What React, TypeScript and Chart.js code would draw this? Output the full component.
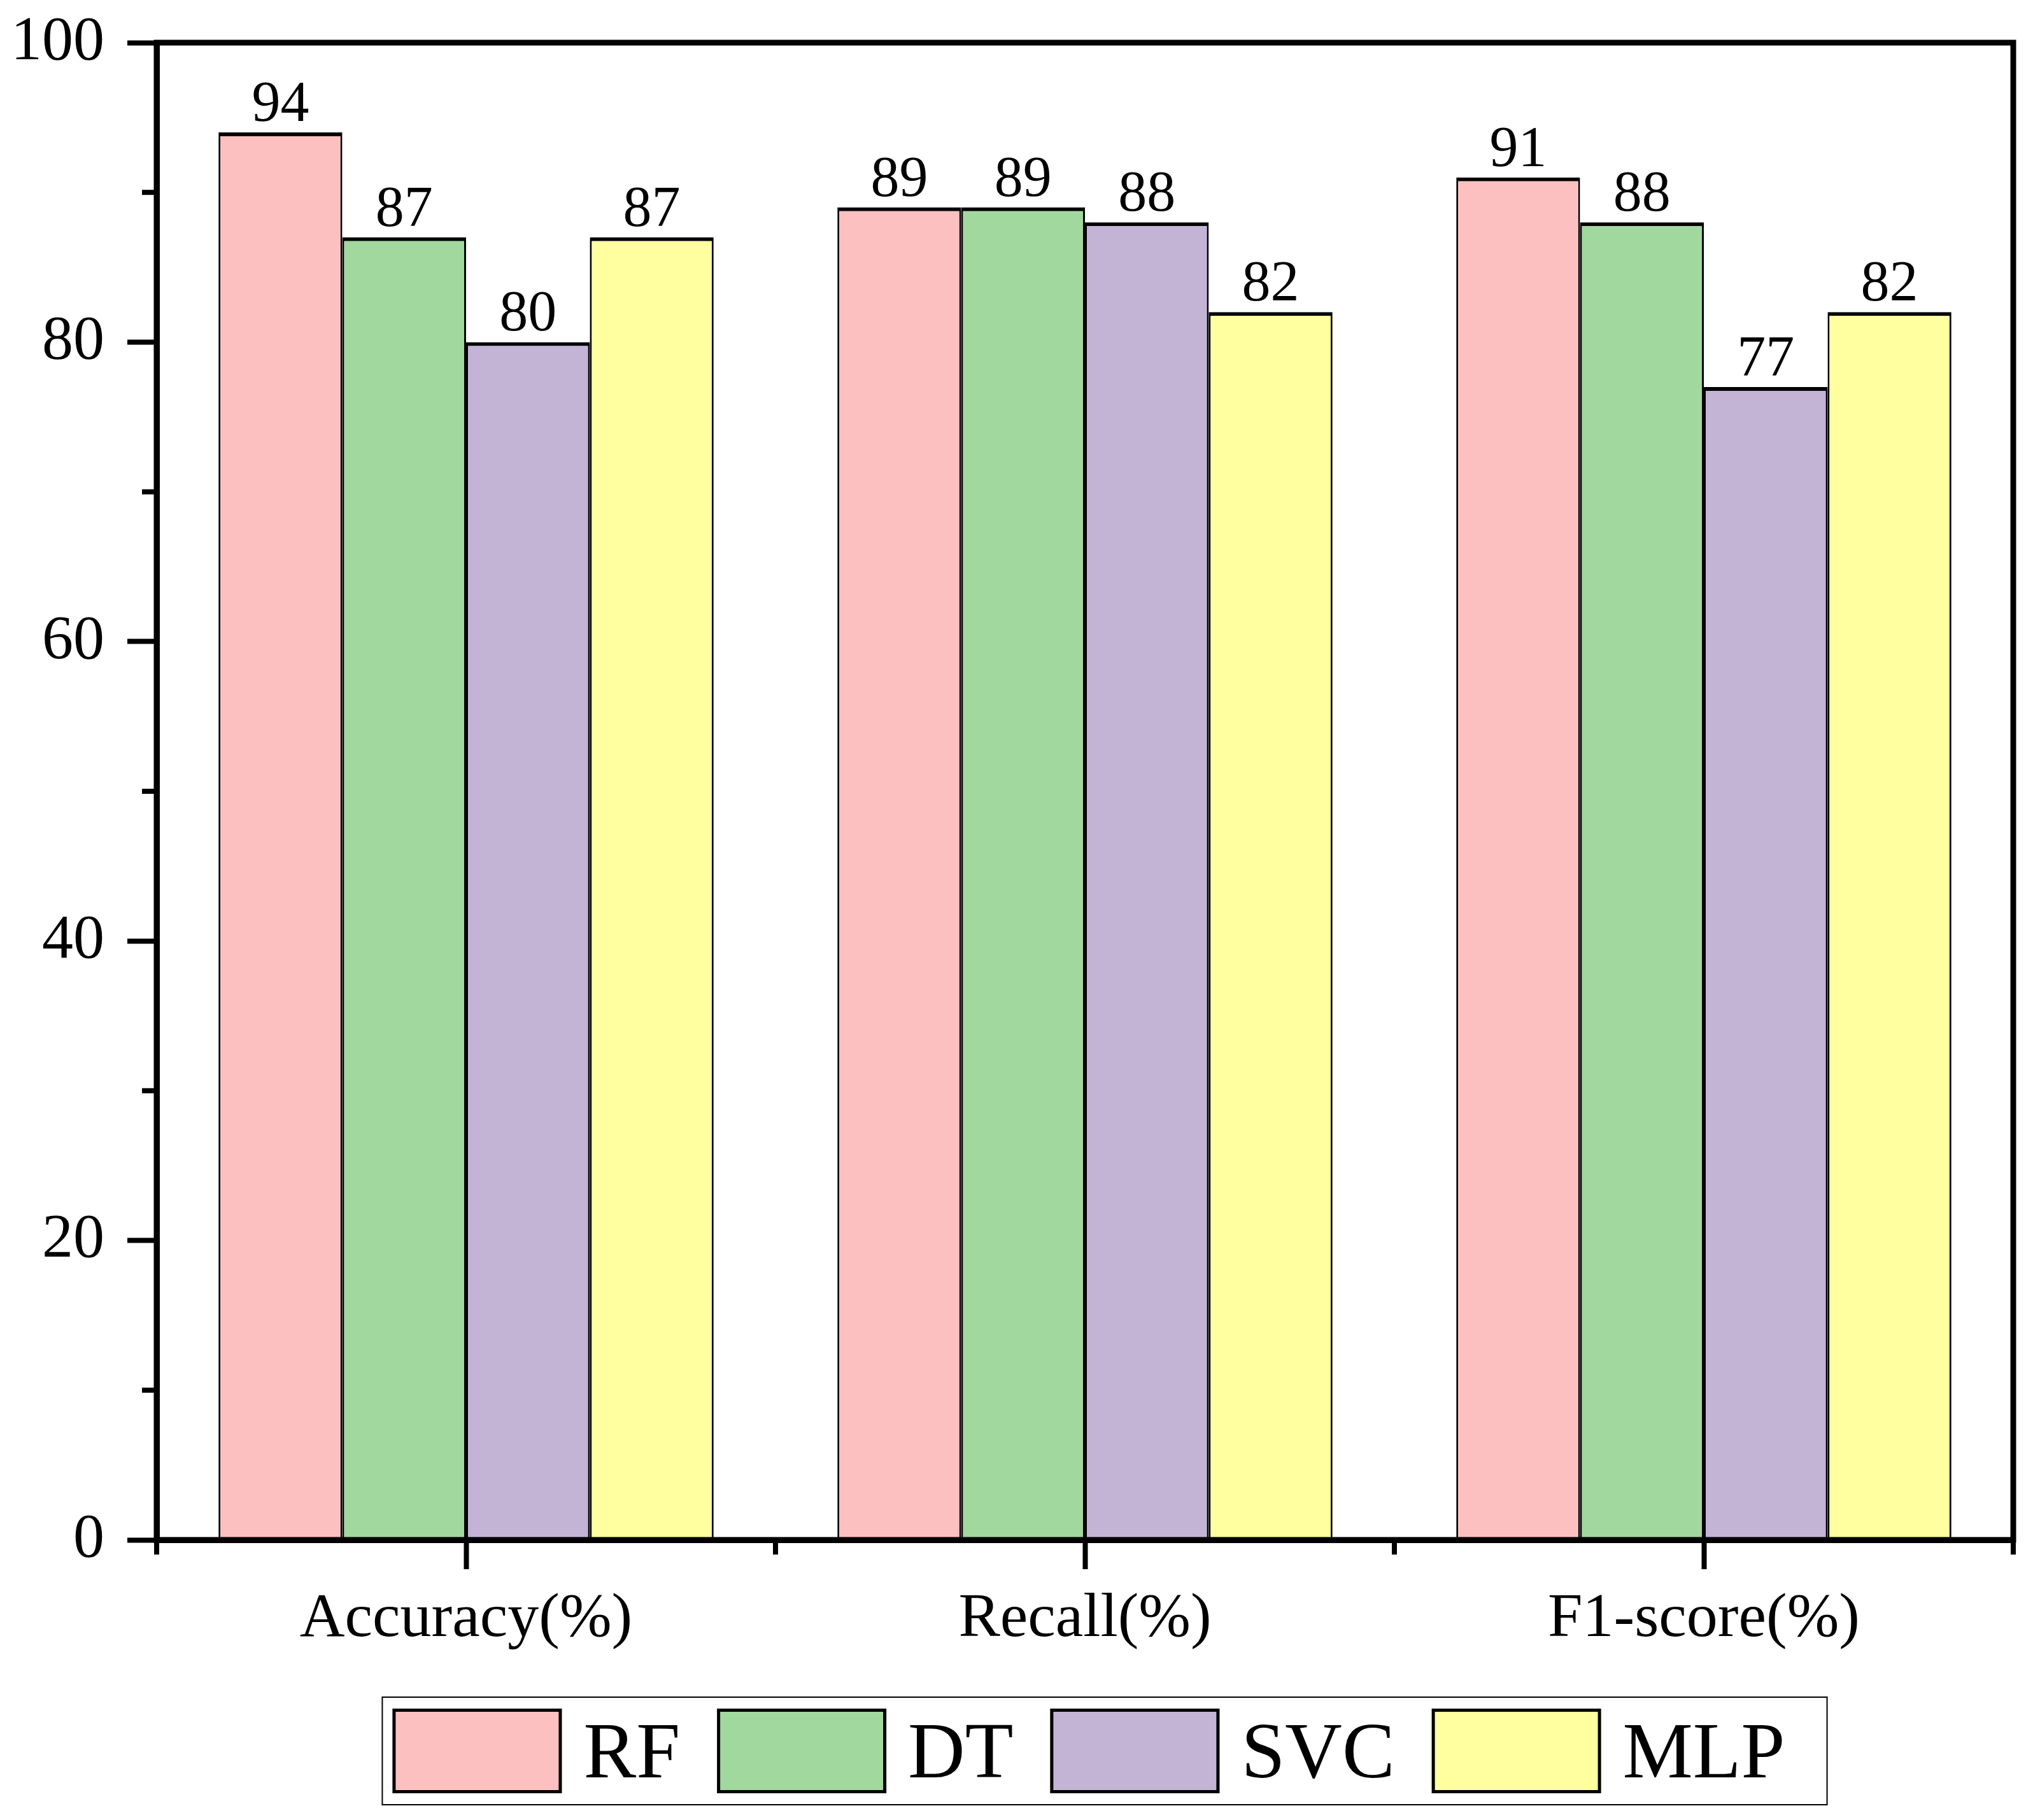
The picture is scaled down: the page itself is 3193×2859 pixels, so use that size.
import React, { useEffect, useRef } from "react";
import { Chart, registerables } from "chart.js";

Chart.register(...registerables);

const categories = ["Accuracy(%)", "Recall(%)", "F1-score(%)"];
const models = ["RF", "DT", "SVC", "MLP"];
const rfValues = [94, 89, 91];
const dtValues = [87, 89, 88];
const svcValues = [80, 88, 77];
const mlpValues = [87, 82, 82];
const yMajorTicks = [0, 20, 40, 60, 80, 100];
const yMinorTicks = [10, 30, 50, 70, 90];
const fills = ["#FCC0C0", "#A0D89E", "#C3B4D6", "#FFFF9F"];

const serif = '"Liberation Serif", "Times New Roman", serif';

// frame, minor ticks, value labels and the boxed legend
const extras = {
  id: "extras",
  afterDraw(chart: any) {
    const { ctx, chartArea, scales } = chart;
    const { left, right, top, bottom } = chartArea;
    ctx.save();
    ctx.strokeStyle = "#000";
    ctx.lineWidth = 9;
    ctx.strokeRect(left, top, right - left, bottom - top);

    // y minor ticks
    ctx.lineWidth = 8;
    yMinorTicks.forEach((v) => {
      const py = scales.y.getPixelForValue(v);
      ctx.beginPath();
      ctx.moveTo(left, py);
      ctx.lineTo(left - 23, py);
      ctx.stroke();
    });
    // x boundary ticks
    const c0 = scales.x.getPixelForValue(0);
    const c1 = scales.x.getPixelForValue(1);
    const half = (c1 - c0) / 2;
    for (let i = 0; i <= categories.length; i++) {
      const px = c0 - half + i * 2 * half;
      ctx.beginPath();
      ctx.moveTo(px, bottom);
      ctx.lineTo(px, bottom + 23);
      ctx.stroke();
    }

    // value labels
    ctx.fillStyle = "#000";
    ctx.font = `90px ${serif}`;
    ctx.textAlign = "center";
    ctx.textBaseline = "alphabetic";
    chart.data.datasets.forEach((ds: any, i: number) => {
      const meta = chart.getDatasetMeta(i);
      meta.data.forEach((bar: any, j: number) => {
        ctx.fillText(String(ds.data[j]), bar.x, bar.y - 18);
      });
    });

    // legend
    ctx.font = `124px ${serif}`;
    ctx.textAlign = "left";
    const sw = 266;
    const sh = 133;
    const gapText = 34;
    const gapItem = 58;
    const widths = models.map((m) => ctx.measureText(m).width);
    let inner = 0;
    widths.forEach((w, i) => {
      inner += sw + gapText + w + (i < widths.length - 1 ? gapItem : 0);
    });
    const padL = 16;
    const padR = 66;
    const boxW = inner + padL + padR;
    const cx = (left + right) / 2 + 31;
    const boxX = cx - boxW / 2;
    const boxY = chart.height - 193;
    const boxH = 169;
    ctx.lineWidth = 2;
    ctx.strokeRect(boxX, boxY, boxW, boxH);
    let x = boxX + padL;
    models.forEach((m, i) => {
      const sy = boxY + 18;
      ctx.fillStyle = fills[i];
      ctx.fillRect(x, sy, sw, sh);
      ctx.lineWidth = 5;
      ctx.strokeRect(x + 2.5, sy + 2.5, sw - 5, sh - 5);
      ctx.fillStyle = "#000";
      ctx.fillText(m, x + sw + gapText, boxY + 126);
      x += sw + gapText + widths[i] + gapItem;
    });
    ctx.restore();
  },
};

const App: React.FC = () => {
  const chartRef = useRef<HTMLCanvasElement>(null);

  useEffect(() => {
    document.body.style.margin = "0";
    if (!chartRef.current) return;
    const ctx = chartRef.current.getContext("2d");
    if (!ctx) return;
    const series = [rfValues, dtValues, svcValues, mlpValues];
    const chart = new Chart(ctx, {
      type: "bar",
      data: {
        labels: categories,
        datasets: models.map((m, i) => ({
          label: m,
          data: series[i],
          backgroundColor: fills[i],
          borderColor: "#000",
          borderWidth: { top: 6, left: 3, right: 3, bottom: 0 },
          borderSkipped: "bottom",
          categoryPercentage: 0.8,
          barPercentage: 1.0,
        })),
      },
      options: {
        animation: false,
        responsive: true,
        maintainAspectRatio: false,
        devicePixelRatio: 1,
        layout: { padding: { left: 0, right: 31, top: 67, bottom: 240 } },
        plugins: {
          legend: { display: false },
          tooltip: { enabled: false },
        },
        scales: {
          x: {
            offset: true,
            ticks: { color: "#000", padding: 20, font: { family: serif, size: 98 } },
            grid: {
              offset: false,
              drawOnChartArea: false,
              drawTicks: true,
              tickLength: 46,
              tickWidth: 8,
              tickColor: "#000",
            },
            border: { display: true, color: "#000", width: 9 },
            afterFit: (s: any) => {
              s.height = 200;
              s.paddingLeft = 0;
              s.paddingRight = 0;
            },
          },
          y: {
            min: 0,
            max: 100,
            afterBuildTicks: (s: any) => {
              s.ticks = yMajorTicks.map((v) => ({ value: v }));
            },
            ticks: { color: "#000", padding: 36, font: { family: serif, size: 98 } },
            grid: {
              drawOnChartArea: false,
              drawTicks: true,
              tickLength: 46,
              tickWidth: 8,
              tickColor: "#000",
            },
            border: { display: true, color: "#000", width: 9 },
            afterFit: (s: any) => {
              s.width = 246;
              s.paddingTop = 0;
              s.paddingBottom = 0;
            },
          },
        },
      },
      plugins: [extras],
    });
    return () => {
      chart.destroy();
    };
  }, []);

  return (
    <div style={{ width: 3193, height: 2859, position: "relative", background: "#fff" }}>
      <canvas ref={chartRef} />
    </div>
  );
};

export default App;
